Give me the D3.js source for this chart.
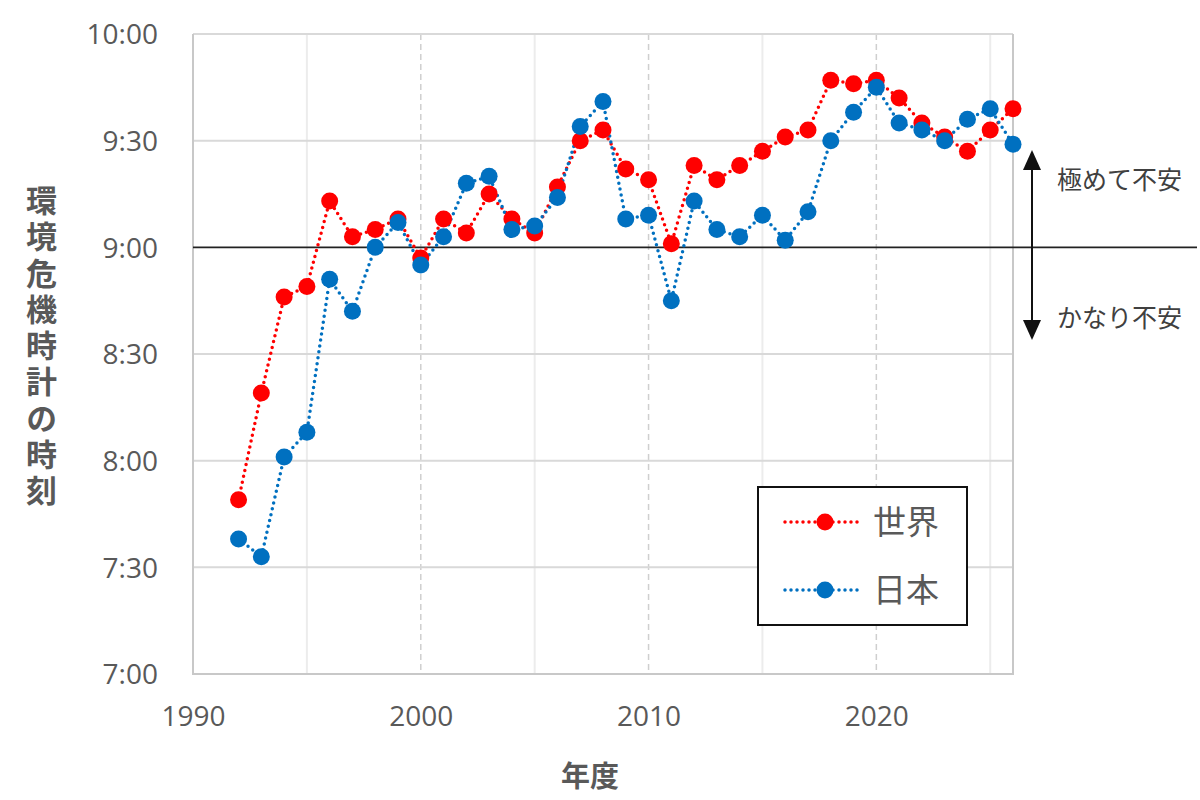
<!DOCTYPE html>
<html><head><meta charset="utf-8">
<script src="https://cdn.jsdelivr.net/npm/d3@7/dist/d3.min.js"></script>
<style>
body{margin:0;background:#fff;}
text{font-family:"Open Sans","Noto Sans CJK JP",sans-serif;}
</style></head>
<body><svg id="c" width="1200" height="800"></svg>
<script>
const years = d3.range(1992, 2027);
// times as "h:mm"
const world = ["7:49","8:19","8:46","8:49","9:13","9:03","9:05","9:08","8:57","9:08",
  "9:04","9:15","9:08","9:04","9:17","9:30","9:33","9:22","9:19","9:01",
  "9:23","9:19","9:23","9:27","9:31","9:33","9:47","9:46","9:47","9:42",
  "9:35","9:31","9:27","9:33","9:39"];
const japan = ["7:38","7:33","8:01","8:08","8:51","8:42","9:00","9:07","8:55","9:03",
  "9:18","9:20","9:05","9:06","9:14","9:34","9:41","9:08","9:09","8:45",
  "9:13","9:05","9:03","9:09","9:02","9:10","9:30","9:38","9:45","9:35",
  "9:33","9:30","9:36","9:39","9:29"];
const seriesNames = ["世界","日本"];
const seriesColors = ["#ff0000","#0070c0"];
const yTicks = ["7:00","7:30","8:00","8:30","9:00","9:30","10:00"];
const xTicks = [1990, 2000, 2010, 2020];
const yTitle = "環境危機時計の時刻";
const xTitle = "年度";
const annUp = "極めて不安", annDown = "かなり不安";

const toMin = s => { const [h,m] = s.split(":").map(Number); return h*60+m; };

const svg = d3.select("#c");
const L=193, R=1013, T=34, B=674;
const x = d3.scaleLinear().domain([1990,2026]).range([L,R]);
const y = d3.scaleLinear().domain([toMin("7:00"), toMin("10:00")]).range([B,T]);

// vertical gridlines
const g = svg.append("g");
[1995,2005,2015,2025].forEach(v=>{
  g.append("line").attr("x1",x(v)).attr("x2",x(v)).attr("y1",T).attr("y2",B)
   .attr("stroke","#ececec").attr("stroke-width",2);
});
[2000,2010,2020].forEach(v=>{
  g.append("line").attr("x1",x(v)).attr("x2",x(v)).attr("y1",T).attr("y2",B)
   .attr("stroke","#cfcfcf").attr("stroke-width",1.5).attr("stroke-dasharray","6,4");
});
// horizontal gridlines
yTicks.forEach(t=>{
  if(t==="9:00") return;
  g.append("line").attr("x1",L).attr("x2",R).attr("y1",y(toMin(t))).attr("y2",y(toMin(t)))
   .attr("stroke","#d9d9d9").attr("stroke-width",2);
});
// plot border
svg.append("path").attr("d",`M${L},${T}V${B}H${R}V${T}`).attr("fill","none")
  .attr("stroke","#c8c8c8").attr("stroke-width",2);

// 9:00 line
svg.append("line").attr("x1",L).attr("x2",1197).attr("y1",y(toMin("9:00"))).attr("y2",y(toMin("9:00")))
  .attr("stroke","#222").attr("stroke-width",1.6);

// axes
const yAxis = d3.axisLeft(y).tickValues(yTicks.map(toMin))
  .tickFormat(v=>Math.floor(v/60)+":"+String(v%60).padStart(2,"0")).tickSize(0).tickPadding(35);
const ya = svg.append("g").attr("transform",`translate(${L},0)`).call(yAxis);
ya.select(".domain").remove();
ya.selectAll("text").attr("font-size",28).attr("fill","#595959").attr("dy","0.35em");

const xAxis = d3.axisBottom(x).tickValues(xTicks).tickFormat(d3.format("d")).tickSize(0).tickPadding(32);
const xa = svg.append("g").attr("transform",`translate(0,${B})`).call(xAxis);
xa.select(".domain").remove();
xa.selectAll("text").attr("font-size",28).attr("fill","#595959");

// titles
svg.append("text").attr("x",40).attr("y",348).attr("text-anchor","middle")
  .attr("writing-mode","vertical-rl").attr("letter-spacing",5.3)
  .attr("font-size",31).attr("font-weight","bold").attr("fill","#595959")
  .attr("font-family","'Noto Sans CJK JP',sans-serif").text(yTitle);
svg.append("text").attr("x",590).attr("y",777).attr("dy","0.35em").attr("text-anchor","middle")
  .attr("font-size",29).attr("font-weight","bold").attr("fill","#595959")
  .attr("font-family","'Noto Sans CJK JP',sans-serif").text(xTitle);

// series
const data = [world, japan];
const line = d3.line().x((d,i)=>x(years[i])).y(d=>y(toMin(d)));
data.forEach((s,k)=>{
  svg.append("path").datum(s).attr("d",line).attr("fill","none")
    .attr("stroke",seriesColors[k]).attr("stroke-width",3.5)
    .attr("stroke-linecap","round").attr("stroke-dasharray","0,6");
});
data.forEach((s,k)=>{
  svg.append("g").selectAll("circle").data(s).join("circle")
    .attr("cx",(d,i)=>x(years[i])).attr("cy",d=>y(toMin(d))).attr("r",8.5)
    .attr("fill",seriesColors[k]);
});

// legend
svg.append("rect").attr("x",758).attr("y",487).attr("width",209).attr("height",138)
  .attr("fill","#fff").attr("stroke","#111").attr("stroke-width",2);
seriesNames.forEach((n,k)=>{
  const ly = 522 + k*68;
  svg.append("line").attr("x1",785).attr("x2",862).attr("y1",ly).attr("y2",ly)
    .attr("stroke",seriesColors[k]).attr("stroke-width",3.5).attr("stroke-linecap","round")
    .attr("stroke-dasharray","0,6");
  svg.append("circle").attr("cx",825).attr("cy",ly).attr("r",8.5).attr("fill",seriesColors[k]);
  svg.append("text").attr("x",873).attr("y",ly).attr("dy","0.36em").attr("font-size",33)
    .attr("fill","#595959").attr("font-family","'Noto Sans CJK JP',sans-serif").text(n);
});

// annotation arrow
const ax = 1032;
svg.append("line").attr("x1",ax).attr("x2",ax).attr("y1",168).attr("y2",322)
  .attr("stroke","#111").attr("stroke-width",2);
svg.append("path").attr("d",`M${ax},150L${ax-9},170L${ax+9},170Z`).attr("fill","#111");
svg.append("path").attr("d",`M${ax},340L${ax-9},320L${ax+9},320Z`).attr("fill","#111");
svg.append("text").attr("x",1057).attr("y",180).attr("dy","0.36em").attr("font-size",25)
  .attr("fill","#404040").attr("font-family","'Noto Sans CJK JP',sans-serif").text(annUp);
svg.append("text").attr("x",1057).attr("y",318).attr("dy","0.36em").attr("font-size",25)
  .attr("fill","#404040").attr("font-family","'Noto Sans CJK JP',sans-serif").text(annDown);
</script>
</body></html>
